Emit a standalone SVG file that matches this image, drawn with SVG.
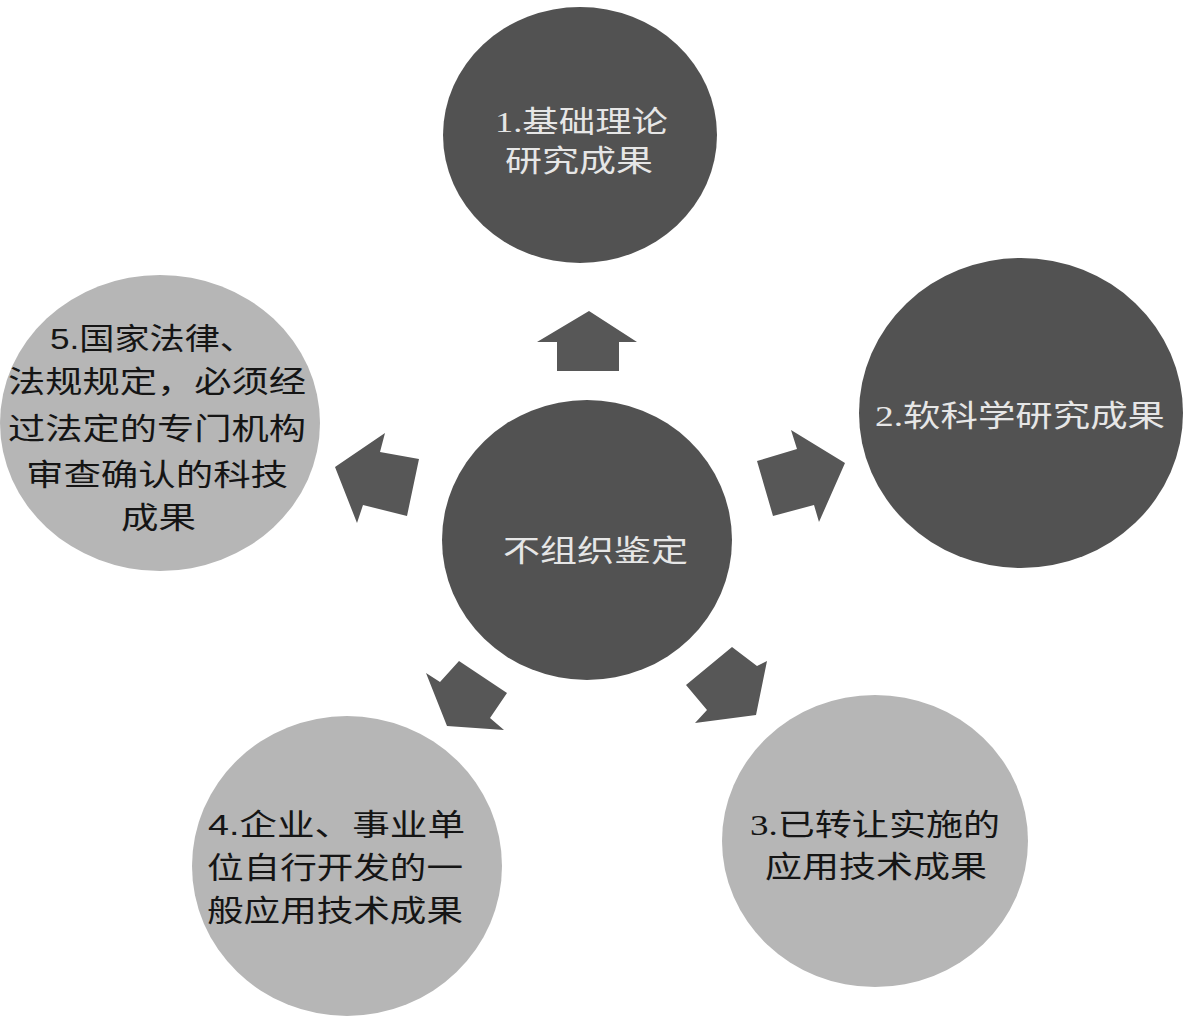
<svg xmlns="http://www.w3.org/2000/svg" width="1185" height="1017" viewBox="0 0 1185 1017">
<style>
.dark{fill:#525252}
.light{fill:#b6b6b6}
.arrow{fill:#575757}
.t{font-family:"Liberation Serif","Noto Sans CJK SC",serif;font-size:30px;lengthAdjust:spacingAndGlyphs}
.tw{fill:#e6e6e6}
.tb{fill:#151515}
.s{font-family:"Liberation Sans","Noto Sans CJK SC",sans-serif}
</style>
<rect width="1185" height="1017" fill="#ffffff"/>
<g id="connectors">
<polygon class="arrow" points="589,311 637,342 619,342 619,371 557,371 557,342 537,342"/>
<polygon class="arrow" points="845,463 791,430 797,449 757,461 773,516 814,505 819,522"/>
<polygon class="arrow" points="756,715 767,661 757,666 732,647 686,685 707,710 695,723"/>
<polygon class="arrow" points="447,726 426,673 440,682 459,661 507,693 490,718 504,730"/>
<polygon class="arrow" points="335,467 385,433 380,452 419,459 407,516 363,505 357,523"/>
</g>
<g id="n1">
<ellipse class="dark" cx="580" cy="135" rx="137" ry="128"/>
<text class="t tw" x="495" y="132" textLength="173" lengthAdjust="spacingAndGlyphs">1.基础理论</text>
<text class="t tw" x="505" y="171" textLength="148" lengthAdjust="spacingAndGlyphs">研究成果</text>
</g>
<g id="n2">
<ellipse class="dark" cx="1021" cy="413" rx="162" ry="155"/>
<text class="t tw" x="875" y="426" textLength="290" lengthAdjust="spacingAndGlyphs">2.软科学研究成果</text>
</g>
<g id="n3">
<ellipse class="light" cx="875" cy="841" rx="153" ry="146"/>
<text class="t tb" x="750" y="835" textLength="250" lengthAdjust="spacingAndGlyphs">3.已转让实施的</text>
<text class="t tb" x="765" y="877" textLength="222" lengthAdjust="spacingAndGlyphs">应用技术成果</text>
</g>
<g id="n4">
<ellipse class="light" cx="347" cy="866" rx="155" ry="150"/>
<text class="t tb s" x="208" y="835" textLength="257" lengthAdjust="spacingAndGlyphs">4.企业、事业单</text>
<text class="t tb s" x="207" y="878" textLength="256" lengthAdjust="spacingAndGlyphs">位自行开发的一</text>
<text class="t tb s" x="207" y="921" textLength="256" lengthAdjust="spacingAndGlyphs">般应用技术成果</text>
</g>
<g id="n5">
<ellipse class="light" cx="160" cy="423" rx="160" ry="148"/>
<text class="t tb s" x="50" y="349" textLength="205" lengthAdjust="spacingAndGlyphs">5.国家法律、</text>
<text class="t tb s" x="8" y="392" textLength="298" lengthAdjust="spacingAndGlyphs">法规规定，必须经</text>
<text class="t tb s" x="8" y="439" textLength="298" lengthAdjust="spacingAndGlyphs">过法定的专门机构</text>
<text class="t tb s" x="26" y="485" textLength="262" lengthAdjust="spacingAndGlyphs">审查确认的科技</text>
<text class="t tb s" x="121" y="528" textLength="75" lengthAdjust="spacingAndGlyphs">成果</text>
</g>
<g id="center">
<ellipse class="dark" cx="587" cy="540" rx="145" ry="140"/>
<text class="t tw s" x="503" y="561" textLength="185" lengthAdjust="spacingAndGlyphs">不组织鉴定</text>
</g>
</svg>
